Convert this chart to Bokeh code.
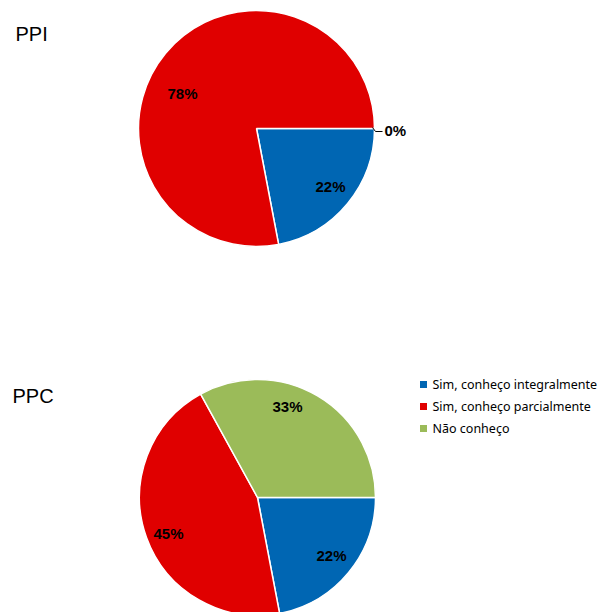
import numpy as np
from bokeh.plotting import figure
from bokeh.models import Range1d, ColumnDataSource
from bokeh.core.properties import value
from bokeh.embed import file_html
from bokeh.resources import INLINE

# Survey answers, share of respondents (%)
categories = ["Sim, conheço integralmente", "Sim, conheço parcialmente", "Não conheço"]
colors = ["#0066B3", "#E00000", "#9BBB59"]
ppi_values = [22, 78, 0]
ppc_values = [22, 45, 33]
titles = ["PPI", "PPC"]

W, H = 602, 612
p = figure(width=W, height=H, x_range=Range1d(0, W), y_range=Range1d(0, H),
           output_backend="svg", toolbar_location=None, min_border=0)
p.axis.visible = False
p.grid.visible = False
p.outline_line_color = None
p.background_fill_color = "white"
p.border_fill_color = "white"

R = 118
# pie centres in screen pixels (y measured from the top)
centres = [(256, 128), (257, 497)]
# label anchor offsets (dx, dy in px from centre, y up) for each slice
label_offsets = [
    [(74, -58), (-74, 35), None],
    [(74, -58), (-89, -36), (30, 91)],
]
title_pos = [(15, 33), (12, 395)]


def draw_pie(vals, cx, cy_top, offsets):
    cy = H - cy_top
    vals = np.array(vals, dtype=float)
    frac = vals / vals.sum()
    cum = np.concatenate([[0], np.cumsum(frac)])
    # slices run clockwise from 3 o'clock
    start = -cum[1:] * 2 * np.pi
    end = -cum[:-1] * 2 * np.pi
    keep = frac > 0
    src = ColumnDataSource(dict(start=start[keep], end=end[keep],
                                color=[c for c, k in zip(colors, keep) if k]))
    p.wedge(x=cx, y=cy, radius=R, start_angle="start", end_angle="end",
            direction="anticlock", fill_color="color", line_color="white",
            line_width=1.5, source=src)
    for v, off in zip(vals, offsets):
        if off is None:
            continue
        p.text(x=[cx + off[0]], y=[cy + off[1]], text=[f"{int(v)}%"],
               text_font=value("Liberation Sans"), text_font_style="bold",
               text_font_size="15px", text_align="center",
               text_baseline="middle", text_color="black")
    return cy


for i, (vals, (cx, cyt), offs) in enumerate(zip([ppi_values, ppc_values], centres, label_offsets)):
    cy = draw_pie(vals, cx, cyt, offs)
    tx, ty = title_pos[i]
    p.text(x=[tx], y=[H - ty], text=[titles[i]], text_font=value("Liberation Sans"),
           text_font_size="20px", text_align="left", text_baseline="middle",
           text_color="black")

# zero slice of the first pie: leader line and label outside the rim
cx, cyt = centres[0]
cy = H - cyt
zero_idx = ppi_values.index(0)
p.line(x=[cx + R - 2, cx + R + 1, cx + R + 8], y=[cy + 1, cy - 3, cy - 3],
       line_color="black", line_width=1)
p.text(x=[cx + R + 10], y=[cy - 2], text=[f"{ppi_values[zero_idx]}%"],
       text_font=value("Liberation Sans"), text_font_style="bold",
       text_font_size="15px", text_align="left", text_baseline="middle",
       text_color="black")

# legend
lx, ly0, dy = 423, H - 384, 22
for j, (cat, col) in enumerate(zip(categories, colors)):
    y = ly0 - j * dy
    p.rect(x=[lx], y=[y], width=7, height=7, fill_color=col, line_color=None)
    p.text(x=[lx + 9], y=[y], text=[cat], text_font=value("Noto Sans"),
           text_font_size="12.5px", text_align="left", text_baseline="middle",
           text_color="black")

open("out.html", "w").write(file_html(p, INLINE))
